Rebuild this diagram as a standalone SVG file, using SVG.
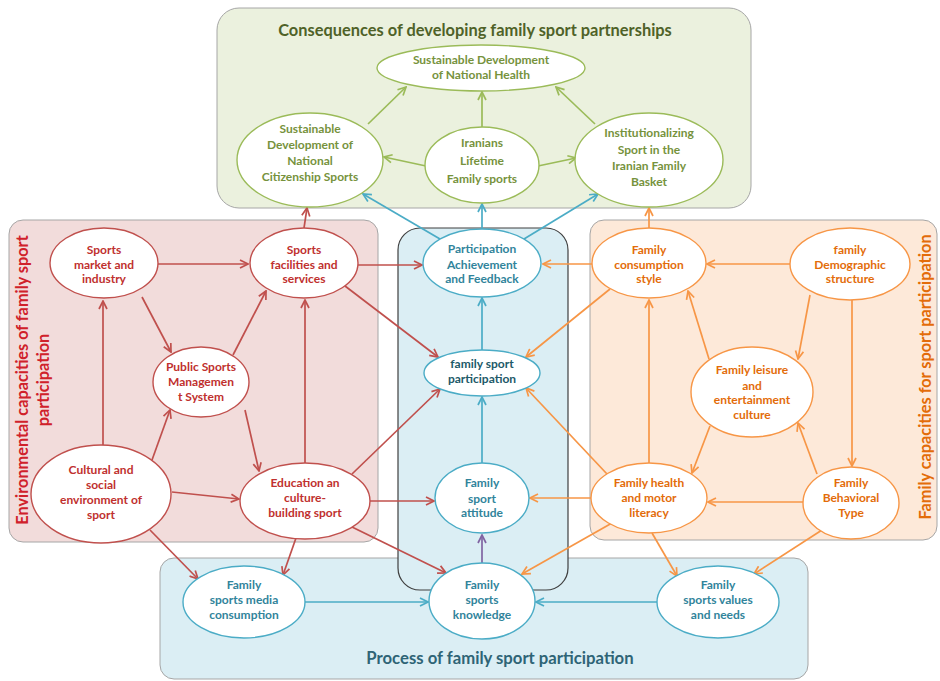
<svg xmlns="http://www.w3.org/2000/svg" width="940" height="681" viewBox="0 0 940 681">
  <defs>
    <style>
      .panel { stroke: #a6a6a6; stroke-width: 1; }
      .lbl { font-family: "Lato", "Liberation Sans", Arial, sans-serif; font-weight: bold; font-size: 12px; text-anchor: middle; }
      .ttl { font-family: "Lato", "Liberation Sans", Arial, sans-serif; font-weight: bold; text-anchor: middle; }
      .node ellipse { fill: #ffffff; stroke-width: 1.4; }
      .g ellipse { stroke: #9bbb59; } .g text { fill: #76923c; }
      .r ellipse { stroke: #c0504d; } .r text { fill: #c0302e; }
      .b ellipse { stroke: #4bacc6; } .b text { fill: #31849b; }
      .o ellipse { stroke: #f79646; } .o text { fill: #e36c09; }
      .c { fill: none; stroke-width: 1.7; }
      .cg { stroke: #9bbb59; marker-end: url(#ag); }
      .cr { stroke: #c0504d; marker-end: url(#ar); }
      .cb { stroke: #4bacc6; marker-end: url(#ab); }
      .co { stroke: #f79646; marker-end: url(#ao); }
      .cp { stroke: #8064a2; marker-end: url(#ap); }
    </style>
    <marker id="ag" viewBox="0 0 10 10" refX="9" refY="5" markerWidth="10" markerHeight="10" markerUnits="userSpaceOnUse" orient="auto"><path d="M1,1 L9,5 L1,9" fill="none" stroke="#9bbb59" stroke-width="1.7"/></marker>
    <marker id="ar" viewBox="0 0 10 10" refX="9" refY="5" markerWidth="10" markerHeight="10" markerUnits="userSpaceOnUse" orient="auto"><path d="M1,1 L9,5 L1,9" fill="none" stroke="#c0504d" stroke-width="1.7"/></marker>
    <marker id="ab" viewBox="0 0 10 10" refX="9" refY="5" markerWidth="10" markerHeight="10" markerUnits="userSpaceOnUse" orient="auto"><path d="M1,1 L9,5 L1,9" fill="none" stroke="#4bacc6" stroke-width="1.7"/></marker>
    <marker id="ao" viewBox="0 0 10 10" refX="9" refY="5" markerWidth="10" markerHeight="10" markerUnits="userSpaceOnUse" orient="auto"><path d="M1,1 L9,5 L1,9" fill="none" stroke="#f79646" stroke-width="1.7"/></marker>
    <marker id="ap" viewBox="0 0 10 10" refX="9" refY="5" markerWidth="10" markerHeight="10" markerUnits="userSpaceOnUse" orient="auto"><path d="M1,1 L9,5 L1,9" fill="none" stroke="#8064a2" stroke-width="1.7"/></marker>
  </defs>

  <rect width="940" height="681" fill="#ffffff"/>

  <!-- group panels -->
  <g id="panels">
    <rect class="panel" x="217" y="8" width="534" height="200" rx="22" fill="#ebf1de"/>
    <rect class="panel" x="9" y="220" width="369" height="322" rx="14" fill="#f2dcdb"/>
    <rect class="panel" x="590" y="220" width="347" height="320" rx="14" fill="#fde9d9"/>
    <rect class="panel" x="160" y="558" width="648" height="121" rx="14" fill="#dbeef4"/>
    <rect x="398" y="228" width="170" height="362" rx="22" fill="#dbeef4" stroke="#3f3f3f" stroke-width="1.2"/>
  </g>

  <!-- group titles -->
  <g id="titles">
    <text class="ttl" x="475" y="36" font-size="16.4" fill="#4f6228">Consequences of developing family sport partnerships</text>
    <g transform="translate(28,380) rotate(-90)">
      <text class="ttl" x="0" y="0" font-size="16.3" fill="#d0212a">Environmental capacities of family sport</text>
      <text class="ttl" x="0" y="21" font-size="16.3" fill="#d0212a">participation</text>
    </g>
    <text class="ttl" transform="translate(931,377) rotate(-90)" x="0" y="0" font-size="16.3" fill="#e36c09">Family capacities for sport participation</text>
    <text class="ttl" x="500" y="664" font-size="16.7" fill="#2e6476">Process of family sport participation</text>
  </g>

  <!-- connectors -->
  <g id="connectors" class="c">
    <!-- consequences -->
    <path class="c cg" d="M368,124 L406,87"/>
    <path class="c cg" d="M482,127 L482,92"/>
    <path class="c cg" d="M595,124 L556,87"/>
    <path class="c cg" d="M426,166 L384,157"/>
    <path class="c cg" d="M538,166 L576,158"/>
    <!-- environmental -->
    <path class="c cr" d="M158,264 L248,264"/>
    <path class="c cr" d="M142,297 L171,352"/>
    <path class="c cr" d="M103,445 L103,301"/>
    <path class="c cr" d="M233,355 L266,291"/>
    <path class="c cr" d="M245,410 L259,471"/>
    <path class="c cr" d="M305,463 L305,300"/>
    <path class="c cr" d="M152,460 L170,410"/>
    <path class="c cr" d="M172,492 L239,499"/>
    <path class="c cr" d="M358,265 L422,265"/>
    <path class="c cr" d="M345,286 L438,357"/>
    <path class="c cr" d="M304,228 L307,208"/>
    <path class="c cr" d="M352,474 L440,389"/>
    <path class="c cr" d="M370,501 L434,501"/>
    <path class="c cr" d="M352,527 L446,573"/>
    <path class="c cr" d="M296,538 L283,575"/>
    <path class="c cr" d="M150,530 L198,579"/>
    <!-- process column -->
    <path class="c cb" d="M482,463 L482,397"/>
    <path class="c cb" d="M482,350 L482,298"/>
    <path class="c cb" d="M440,239 L363,194"/>
    <path class="c cb" d="M482,229 L482,204"/>
    <path class="c cb" d="M524,239 L598,194"/>
    <path class="c cp" d="M482,563 L482,535"/>
    <path class="c cb" d="M305,602 L428,602"/>
    <path class="c cb" d="M657,602 L536,602"/>
    <!-- family capacities -->
    <path class="c co" d="M790,264 L707,264"/>
    <path class="c co" d="M810,295 L798,359"/>
    <path class="c co" d="M852,300 L852,466"/>
    <path class="c co" d="M709,359 L688,291"/>
    <path class="c co" d="M649,463 L649,300"/>
    <path class="c co" d="M710,426 L692,473"/>
    <path class="c co" d="M817,474 L798,423"/>
    <path class="c co" d="M803,502 L708,502"/>
    <path class="c co" d="M592,264 L543,264"/>
    <path class="c co" d="M610,289 L526,357"/>
    <path class="c co" d="M607,474 L526,388"/>
    <path class="c co" d="M591,498 L530,498"/>
    <path class="c co" d="M612,523 L522,574"/>
    <path class="c co" d="M652,533 L677,576"/>
    <path class="c co" d="M822,530 L754,574"/>
    <path class="c co" d="M649,228 L649,208"/>
  </g>

  <!-- consequences nodes -->
  <g id="n-health" class="node g">
    <ellipse cx="481" cy="68" rx="104" ry="23"/>
    <text class="lbl" x="481" y="64">Sustainable Development</text>
    <text class="lbl" x="481" y="79">of National Health</text>
  </g>
  <g id="n-citizenship" class="node g">
    <ellipse cx="310" cy="160" rx="73" ry="47"/>
    <text class="lbl" x="310" y="133">Sustainable</text>
    <text class="lbl" x="310" y="149">Development of</text>
    <text class="lbl" x="310" y="165">National</text>
    <text class="lbl" x="310" y="181">Citizenship Sports</text>
  </g>
  <g id="n-lifetime" class="node g">
    <ellipse cx="482" cy="165" rx="57" ry="38"/>
    <text class="lbl" x="482" y="147">Iranians</text>
    <text class="lbl" x="482" y="165">Lifetime</text>
    <text class="lbl" x="482" y="183">Family sports</text>
  </g>
  <g id="n-basket" class="node g">
    <ellipse cx="649" cy="160" rx="74" ry="47"/>
    <text class="lbl" x="649" y="137">Institutionalizing</text>
    <text class="lbl" x="649" y="154">Sport in the</text>
    <text class="lbl" x="649" y="170">Iranian Family</text>
    <text class="lbl" x="649" y="186">Basket</text>
  </g>

  <!-- environmental nodes -->
  <g id="n-market" class="node r">
    <ellipse cx="104" cy="263" rx="54" ry="35"/>
    <text class="lbl" x="104" y="254">Sports</text>
    <text class="lbl" x="104" y="269">market and</text>
    <text class="lbl" x="104" y="283">industry</text>
  </g>
  <g id="n-facilities" class="node r">
    <ellipse cx="304" cy="263" rx="54" ry="35"/>
    <text class="lbl" x="304" y="254">Sports</text>
    <text class="lbl" x="304" y="269">facilities and</text>
    <text class="lbl" x="304" y="283">services</text>
  </g>
  <g id="n-management" class="node r">
    <ellipse cx="201" cy="382" rx="48" ry="35"/>
    <text class="lbl" x="201" y="371">Public Sports</text>
    <text class="lbl" x="201" y="386">Managemen</text>
    <text class="lbl" x="201" y="401">t System</text>
  </g>
  <g id="n-cultural" class="node r">
    <ellipse cx="101" cy="494" rx="70" ry="49"/>
    <text class="lbl" x="101" y="474">Cultural and</text>
    <text class="lbl" x="101" y="489">social</text>
    <text class="lbl" x="101" y="504">environment of</text>
    <text class="lbl" x="101" y="519">sport</text>
  </g>
  <g id="n-education" class="node r">
    <ellipse cx="305" cy="501" rx="65" ry="38"/>
    <text class="lbl" x="305" y="487">Education an</text>
    <text class="lbl" x="305" y="502">culture-</text>
    <text class="lbl" x="305" y="517">building sport</text>
  </g>

  <!-- process column nodes -->
  <g id="n-feedback" class="node b">
    <ellipse cx="482" cy="263" rx="59" ry="34"/>
    <text class="lbl" x="482" y="253">Participation</text>
    <text class="lbl" x="482" y="269">Achievement</text>
    <text class="lbl" x="482" y="283">and Feedback</text>
  </g>
  <g id="n-participation" class="node b">
    <ellipse cx="482" cy="373" rx="58" ry="23"/>
    <text class="lbl" x="482" y="368" style="fill:#215968">family sport</text>
    <text class="lbl" x="482" y="383" style="fill:#215968">participation</text>
  </g>
  <g id="n-attitude" class="node b">
    <ellipse cx="482" cy="498" rx="47" ry="35"/>
    <text class="lbl" x="482" y="487">Family</text>
    <text class="lbl" x="482" y="503">sport</text>
    <text class="lbl" x="482" y="517">attitude</text>
  </g>
  <g id="n-knowledge" class="node b">
    <ellipse cx="482" cy="601" rx="53" ry="38"/>
    <text class="lbl" x="482" y="589">Family</text>
    <text class="lbl" x="482" y="604">sports</text>
    <text class="lbl" x="482" y="619">knowledge</text>
  </g>
  <g id="n-media" class="node b">
    <ellipse cx="244" cy="602" rx="61" ry="36"/>
    <text class="lbl" x="244" y="589">Family</text>
    <text class="lbl" x="244" y="604">sports media</text>
    <text class="lbl" x="244" y="619">consumption</text>
  </g>
  <g id="n-values" class="node b">
    <ellipse cx="718" cy="602" rx="61" ry="36"/>
    <text class="lbl" x="718" y="589">Family</text>
    <text class="lbl" x="718" y="604">sports values</text>
    <text class="lbl" x="718" y="619">and needs</text>
  </g>

  <!-- family capacity nodes -->
  <g id="n-consumption" class="node o">
    <ellipse cx="649" cy="263" rx="57" ry="35"/>
    <text class="lbl" x="649" y="254">Family</text>
    <text class="lbl" x="649" y="269">consumption</text>
    <text class="lbl" x="649" y="283">style</text>
  </g>
  <g id="n-demographic" class="node o">
    <ellipse cx="850" cy="264" rx="60" ry="36"/>
    <text class="lbl" x="850" y="254">family</text>
    <text class="lbl" x="850" y="269">Demographic</text>
    <text class="lbl" x="850" y="283">structure</text>
  </g>
  <g id="n-leisure" class="node o">
    <ellipse cx="752" cy="392" rx="61" ry="45"/>
    <text class="lbl" x="752" y="374">Family leisure</text>
    <text class="lbl" x="752" y="390">and</text>
    <text class="lbl" x="752" y="404">entertainment</text>
    <text class="lbl" x="752" y="419">culture</text>
  </g>
  <g id="n-literacy" class="node o">
    <ellipse cx="649" cy="498" rx="58" ry="35"/>
    <text class="lbl" x="649" y="487">Family health</text>
    <text class="lbl" x="649" y="502">and motor</text>
    <text class="lbl" x="649" y="517">literacy</text>
  </g>
  <g id="n-behavioral" class="node o">
    <ellipse cx="851" cy="503" rx="48" ry="36"/>
    <text class="lbl" x="851" y="487">Family</text>
    <text class="lbl" x="851" y="502">Behavioral</text>
    <text class="lbl" x="851" y="517">Type</text>
  </g>
</svg>
